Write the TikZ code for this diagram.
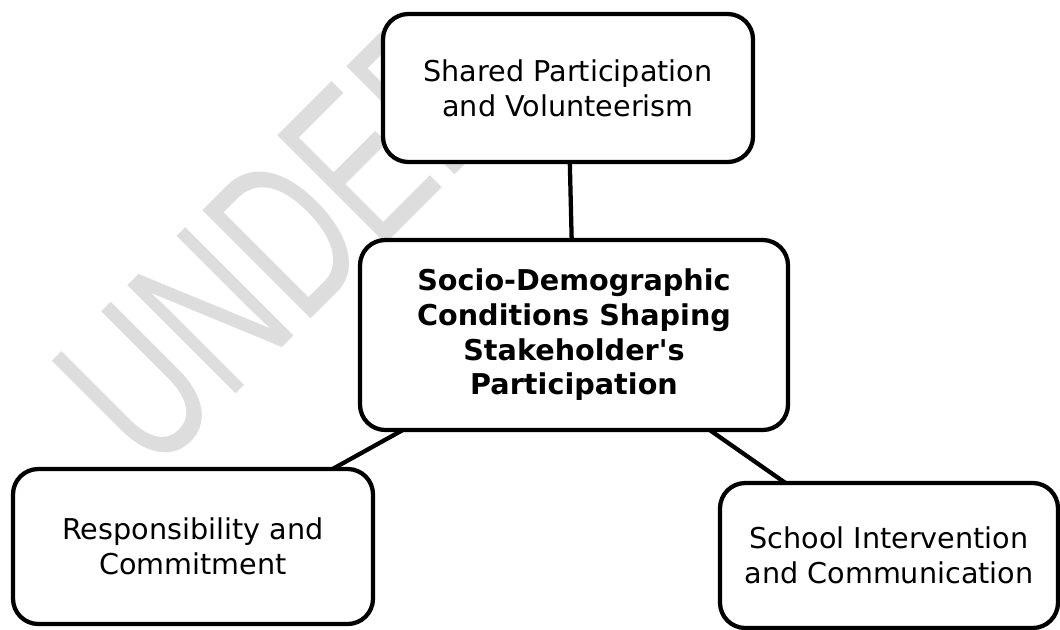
\documentclass[tikz,border=0pt]{standalone}
\usepackage{fontspec}
\setmainfont{DejaVu Sans}
\newfontfamily\wmfont{Liberation Sans}
\usetikzlibrary{positioning}
\definecolor{wmgray}{RGB}{221,221,221}

\begin{document}
\begin{tikzpicture}[
  x=0.75pt, y=-0.75pt,
  box/.style={draw, line width=3.2pt, rounded corners=19pt, fill=white, align=center, outer sep=0pt, font=\fontsize{21.5pt}{26pt}\selectfont},
  rootbox/.style={box, font=\fontsize{21.5pt}{26pt}\selectfont\bfseries, minimum width=321pt, minimum height=142.5pt},
  wmtext/.style={text=wmgray, font=\wmfont\fontsize{167pt}{170pt}\selectfont, inner sep=0pt},
  link/.style={line width=3.2pt},
]
\useasboundingbox (0,0) rectangle (1060,629);

% watermark behind the boxes
\node[wmtext, rotate=45, xscale=0.66, anchor=base west] (wmark) at (152,478) {UNDER};

\node[rootbox] (socio) at (574,335) {Socio-Demographic\\Conditions Shaping\\Stakeholder\textquotesingle s\\Participation};

\node[box, minimum width=277.5pt, minimum height=111pt, above=58.5pt of socio, xshift=-4.5pt] (shared) {Shared Participation\\and Volunteerism};
\node[box, minimum width=270pt, minimum height=116.25pt, below left=29.25pt and -9.75pt of socio] (resp) {Responsibility and\\Commitment};
\node[box, minimum width=253.5pt, minimum height=108.75pt, below right=39.75pt and -51pt of socio] (school) {School Intervention\\and Communication};

\foreach \item in {shared, resp, school} {
  \draw[link] (socio) -- (\item);
}
\end{tikzpicture}
\end{document}
